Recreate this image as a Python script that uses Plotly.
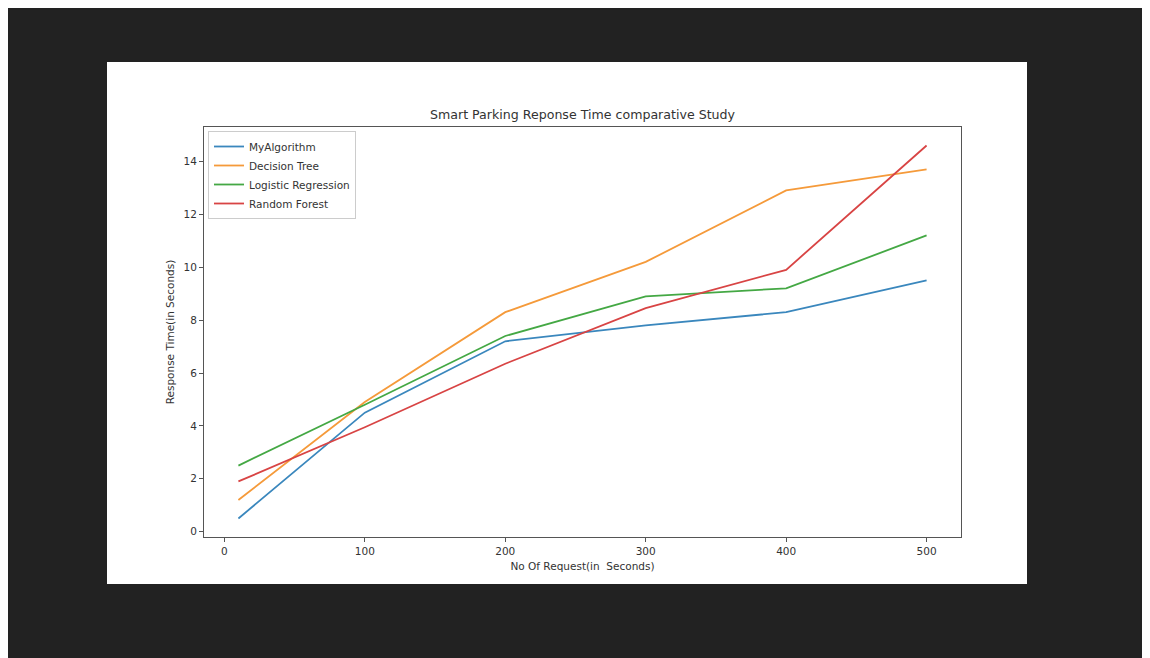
import plotly.graph_objects as go

requests = [10, 100, 200, 300, 400, 500]
my_algorithm = [0.5, 4.5, 7.2, 7.8, 8.3, 9.5]
decision_tree = [1.2, 4.9, 8.3, 10.2, 12.9, 13.7]
logistic_regression = [2.5, 4.8, 7.4, 8.9, 9.2, 11.2]
random_forest = [1.9, 3.95, 6.35, 8.45, 9.9, 14.6]

series_names = ["MyAlgorithm", "Decision Tree", "Logistic Regression", "Random Forest"]
series_values = [my_algorithm, decision_tree, logistic_regression, random_forest]
colors = ["#3a87bd", "#f59a3a", "#44a844", "#d84444"]

x_ticks = [0, 100, 200, 300, 400, 500]
y_ticks = [0, 2, 4, 6, 8, 10, 12, 14]

OX, OY = 8, 8  # page body offset
W, H = 1150 - OX, 658 - OY
L, R, T, B = 204 - OX, 961 - OX, 127 - OY, 537 - OY
pw, ph = R - L, B - T

def px_x(p):
    return (p - OX - L) / pw

def px_y(p):
    return (B - (p - OY)) / ph

fig = go.Figure()
for name, vals, c in zip(series_names, series_values, colors):
    fig.add_trace(go.Scatter(x=requests, y=vals, mode="lines", name=name,
                             line=dict(color=c, width=1.8)))

FS = 10.5
font = dict(family="DejaVu Sans, sans-serif", size=FS, color="#333333")

shapes = [
    dict(type="rect", xref="paper", yref="paper", x0=px_x(107), x1=px_x(1027),
         y0=px_y(584), y1=px_y(62), fillcolor="white", line=dict(width=0), layer="below"),
]

fig.update_layout(
    width=W, height=H,
    margin=dict(l=L, r=W - R, t=T, b=H - B, pad=0),
    paper_bgcolor="#222222",
    plot_bgcolor="white",
    font=font,
    shapes=shapes,
    title=dict(text="Smart Parking Reponse Time comparative Study",
               x=(L + pw / 2) / W, xanchor="center",
               y=1 - (115 - OY) / H, yanchor="middle",
               font=dict(family="DejaVu Sans, sans-serif", size=12.6, color="#333333")),
    xaxis=dict(range=[-14.5, 524.5], tickvals=x_ticks, showgrid=False, zeroline=False,
               showline=True, linecolor="#555555", linewidth=1, mirror=True,
               ticks="outside", ticklen=4, tickcolor="#555555",
               tickfont=dict(size=FS, color="#333333"),
               title=dict(text="No Of Request(in\u00a0 Seconds)", standoff=7,
                          font=dict(size=FS, color="#333333"))),
    yaxis=dict(range=[-0.2, 15.3], tickvals=y_ticks, showgrid=False, zeroline=False,
               showline=True, linecolor="#555555", linewidth=1, mirror=True,
               ticks="outside", ticklen=4, tickcolor="#555555",
               tickfont=dict(size=FS, color="#333333"),
               title=dict(text="Response Time(in Seconds)", standoff=6,
                          font=dict(size=FS, color="#333333"))),
    legend=dict(x=px_x(208), y=px_y(131), xanchor="left", yanchor="top",
                bgcolor="white", bordercolor="#cccccc", borderwidth=1,
                font=dict(size=FS, color="#333333"), itemwidth=30,
                tracegroupgap=0),
    showlegend=True,
)

fig.write_html("out.html")
